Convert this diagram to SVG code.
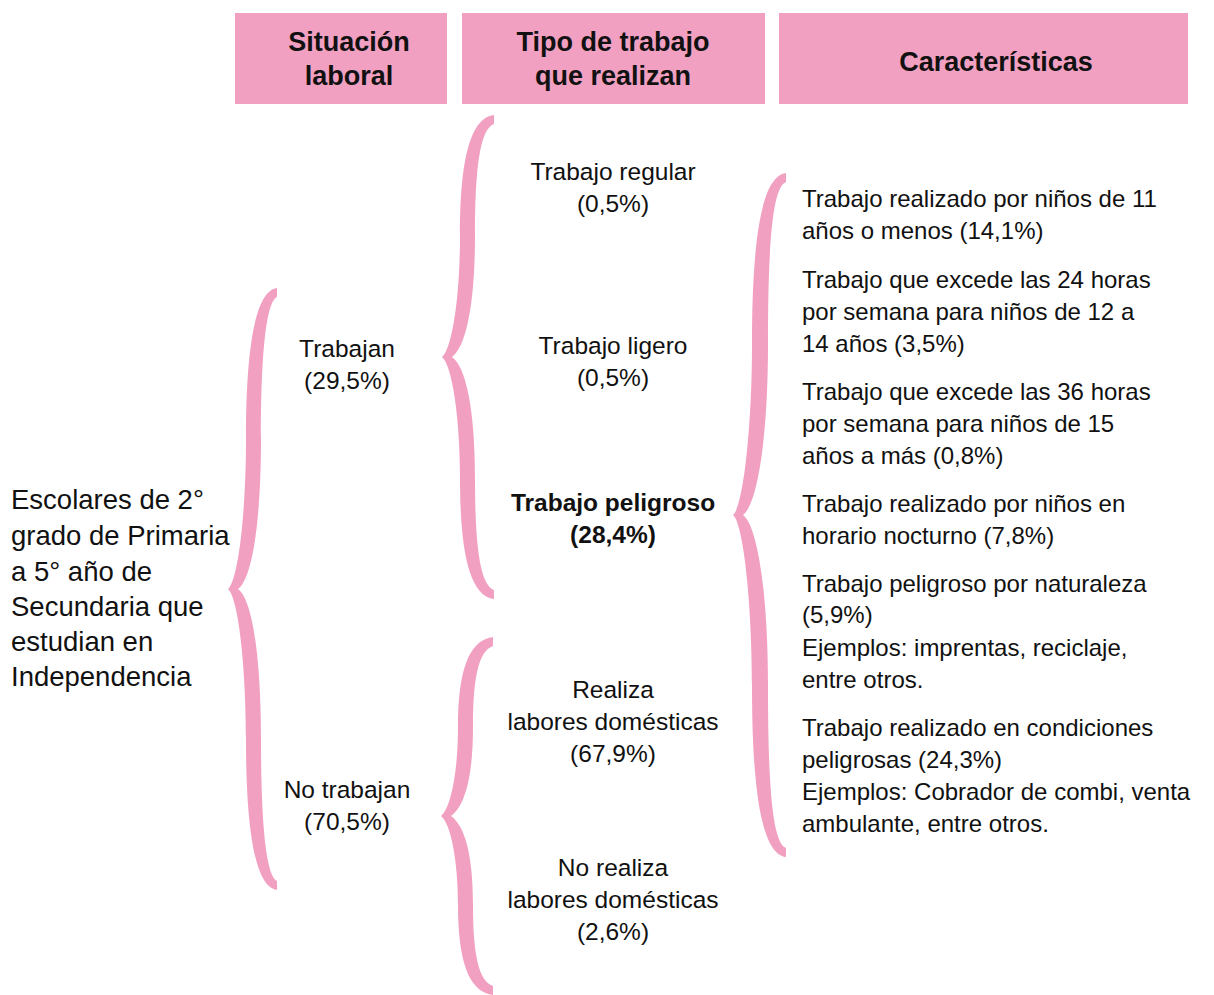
<svg xmlns="http://www.w3.org/2000/svg" width="1214" height="995" viewBox="0 0 1214 995">
<style>
.hdr{fill:#F2A0C1}
.ht{font-family:"Liberation Sans",Arial,sans-serif;font-size:27px;font-weight:bold;fill:#111;text-anchor:middle}
.t{font-family:"Liberation Sans",Arial,sans-serif;font-size:24.5px;fill:#111}
.r{font-size:24px}
.tl{font-family:"Liberation Sans",Arial,sans-serif;font-size:27.5px;fill:#111}
.c{text-anchor:middle}
.b{font-weight:bold}
.brace{fill:#F2A0C1}
</style>
<rect width="1214" height="995" fill="#fff"/>
<g id="headers">
<g id="h1"><rect class="hdr" x="235" y="13" width="212" height="91"/><text class="ht" x="349" y="51">Situación</text><text class="ht" x="349" y="85">laboral</text></g>
<g id="h2"><rect class="hdr" x="462" y="13" width="303" height="91"/><text class="ht" x="613" y="51">Tipo de trabajo</text><text class="ht" x="613" y="85">que realizan</text></g>
<g id="h3"><rect class="hdr" x="779" y="13" width="409" height="91"/><text class="ht" x="996" y="71">Características</text></g>
</g>
<g id="connectors">
<path class="brace" transform="translate(228,589)" d="M0,0 C10,-8 18,-75 18,-150.5 C18,-235 26,-298 49,-301 L49,-292 C38,-287 33,-235 33,-150.5 C33,-66 24,-10 10,0 C24,10 33,66 33,150.5 C33,235 38,287 49,292 L49,301 C26,298 18,235 18,150.5 C18,75 10,8 0,0Z"/>
<path class="brace" transform="translate(442,357)" d="M0,0 C10,-8 18,-60 18,-121 C18,-189 26,-239 52,-242 L52,-233 C38,-228 33,-189 33,-121 C33,-53 24,-10 10,0 C24,10 33,53 33,121 C33,189 38,228 52,233 L52,242 C26,239 18,189 18,121 C18,60 10,8 0,0Z"/>
<path class="brace" transform="translate(441,816)" d="M0,0 C10,-8 17,-45 17,-89.5 C17,-140 26,-176 52,-179 L52,-170 C38,-165 32,-140 32,-89.5 C32,-39 24,-10 10,0 C24,10 32,39 32,89.5 C32,140 38,165 52,170 L52,179 C26,176 17,140 17,89.5 C17,45 10,8 0,0Z"/>
<path class="brace" transform="translate(733,515)" d="M0,0 C10,-8 19,-85 19,-171 C19,-267 27,-339 53,-342 L53,-333 C39,-328 35,-267 35,-171 C35,-75 24,-10 10,0 C24,10 35,75 35,171 C35,267 39,328 53,333 L53,342 C27,339 19,267 19,171 C19,85 10,8 0,0Z"/>
</g>
<g id="root"><text class="tl" x="11" y="509">Escolares de 2°</text><text class="tl" x="11" y="545">grado de Primaria</text><text class="tl" x="11" y="581">a 5° año de</text><text class="tl" x="11" y="616">Secundaria que</text><text class="tl" x="11" y="651">estudian en</text><text class="tl" x="11" y="686">Independencia</text></g>
<g id="trabajan"><text class="t c" x="347" y="357">Trabajan</text><text class="t c" x="347" y="389">(29,5%)</text></g>
<g id="notrabajan"><text class="t c" x="347" y="798">No trabajan</text><text class="t c" x="347" y="830">(70,5%)</text></g>
<g id="regular"><text class="t c" x="613" y="180">Trabajo regular</text><text class="t c" x="613" y="212">(0,5%)</text></g>
<g id="ligero"><text class="t c" x="613" y="354">Trabajo ligero</text><text class="t c" x="613" y="386">(0,5%)</text></g>
<g id="peligroso"><text class="t c b" x="613" y="511">Trabajo peligroso</text><text class="t c b" x="613" y="543">(28,4%)</text></g>
<g id="realiza"><text class="t c" x="613" y="698">Realiza</text><text class="t c" x="613" y="730">labores domésticas</text><text class="t c" x="613" y="762">(67,9%)</text></g>
<g id="norealiza"><text class="t c" x="613" y="876">No realiza</text><text class="t c" x="613" y="908">labores domésticas</text><text class="t c" x="613" y="940">(2,6%)</text></g>
<g id="c1"><text class="t r" x="802" y="207">Trabajo realizado por niños de 11</text><text class="t r" x="802" y="239">años o menos (14,1%)</text></g>
<g id="c2"><text class="t r" x="802" y="288">Trabajo que excede las 24 horas</text><text class="t r" x="802" y="320">por semana para niños de 12 a</text><text class="t r" x="802" y="352">14 años (3,5%)</text></g>
<g id="c3"><text class="t r" x="802" y="400">Trabajo que excede las 36 horas</text><text class="t r" x="802" y="432">por semana para niños de 15</text><text class="t r" x="802" y="464">años a más (0,8%)</text></g>
<g id="c4"><text class="t r" x="802" y="512">Trabajo realizado por niños en</text><text class="t r" x="802" y="544">horario nocturno (7,8%)</text></g>
<g id="c5"><text class="t r" x="802" y="592">Trabajo peligroso por naturaleza</text><text class="t r" x="802" y="623">(5,9%)</text><text class="t r" x="802" y="656">Ejemplos: imprentas, reciclaje,</text><text class="t r" x="802" y="688">entre otros.</text></g>
<g id="c6"><text class="t r" x="802" y="736">Trabajo realizado en condiciones</text><text class="t r" x="802" y="768">peligrosas (24,3%)</text><text class="t r" x="802" y="800">Ejemplos: Cobrador de combi, venta</text><text class="t r" x="802" y="832">ambulante, entre otros.</text></g>
</svg>
